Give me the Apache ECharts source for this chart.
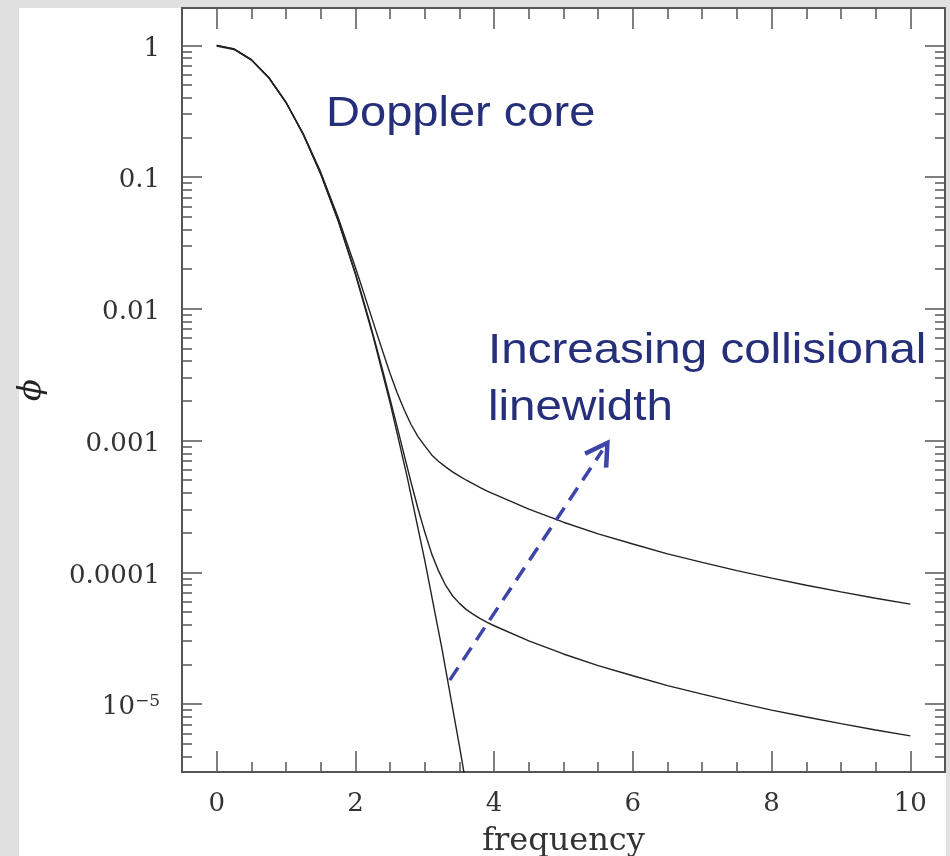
<!DOCTYPE html>
<html>
<head>
<meta charset="utf-8">
<style>
  html, body { margin: 0; padding: 0; background: #e0e0e0; }
  #chart { width: 950px; height: 856px; }
</style>
<script src="https://cdn.jsdelivr.net/npm/echarts@6/dist/echarts.min.js"></script>
</head>
<body>
<div id="chart"></div>
<script>
// frequency axis ticks
const xMajor = [0, 2, 4, 6, 8, 10];
const xMajorLabels = ["0", "2", "4", "6", "8", "10"];
const xMinor = [0.5, 1, 1.5, 2.5, 3, 3.5, 4.5, 5, 5.5, 6.5, 7, 7.5, 8.5, 9, 9.5];

// phi axis ticks (log)
const yMajor = [1e-5, 1e-4, 1e-3, 0.01, 0.1, 1];
const yMajorLabels = ["{b|10}{s|\u22125}", "0.0001", "0.001", "0.01", "0.1", "1"];
const yMinor = [
  4e-6, 5e-6, 6e-6, 7e-6, 8e-6, 9e-6,
  2e-5, 3e-5, 4e-5, 5e-5, 6e-5, 7e-5, 8e-5, 9e-5,
  2e-4, 3e-4, 4e-4, 5e-4, 6e-4, 7e-4, 8e-4, 9e-4,
  0.002, 0.003, 0.004, 0.005, 0.006, 0.007, 0.008, 0.009,
  0.02, 0.03, 0.04, 0.05, 0.06, 0.07, 0.08, 0.09,
  0.2, 0.3, 0.4, 0.5, 0.6, 0.7, 0.8, 0.9
];

// pure Doppler profile
const freqDoppler = [0, 0.25, 0.5, 0.75, 1, 1.25, 1.5, 1.75, 2, 2.25, 2.5, 2.75, 3, 3.25, 3.5, 3.6];
const phiDoppler = [1, 0.939, 0.779, 0.570, 0.368, 0.210, 0.105, 0.0468, 0.0183, 0.00633, 0.00193, 5.19e-4, 1.23e-4, 2.59e-5, 4.79e-6, 2.36e-6];

// profiles with collisional wings
const freqVoigt = [0, 0.25, 0.5, 0.75, 1, 1.25, 1.5, 1.75, 2, 2.1, 2.2, 2.3, 2.4, 2.5, 2.6, 2.7, 2.8, 2.9,
  3, 3.1, 3.2, 3.3, 3.4, 3.5, 3.6, 3.7, 3.8, 3.9, 4,
  4.5, 5, 5.5, 6, 6.5, 7, 7.5, 8, 8.5, 9, 9.5, 10];
const phiNarrow = [0.999, 0.938, 0.778, 0.570, 0.368, 0.210, 0.106, 0.0471, 0.0186, 0.01236, 0.00809, 0.00521,
  0.00330, 0.00206, 0.00128, 7.88e-4, 4.87e-4, 3.08e-4,
  2.02e-4, 1.38e-4, 1.02e-4, 7.98e-5, 6.64e-5, 5.81e-5, 5.21e-5, 4.79e-5, 4.45e-5, 4.17e-5, 3.93e-5,
  3.02e-5, 2.40e-5, 1.96e-5, 1.64e-5, 1.38e-5, 1.19e-5, 1.03e-5, 9.0e-6, 7.97e-6, 7.10e-6, 6.36e-6, 5.73e-6];
const phiWide = [0.989, 0.930, 0.772, 0.568, 0.369, 0.212, 0.109, 0.0496, 0.0206, 0.01424, 0.00977, 0.00671,
  0.00464, 0.00323, 0.00232, 0.00173, 0.00133, 0.001075,
  9.11e-4, 7.78e-4, 6.94e-4, 6.31e-4, 5.78e-4, 5.38e-4, 5.0e-4, 4.69e-4, 4.40e-4, 4.14e-4, 3.92e-4,
  3.02e-4, 2.40e-4, 1.96e-4, 1.64e-4, 1.38e-4, 1.19e-4, 1.03e-4, 9.03e-5, 7.97e-5, 7.10e-5, 6.36e-5, 5.73e-5];

// dashed arrow (data coords)
const arrowFrom = [3.36, 1.52e-5];
const arrowTo = [5.56, 8.4e-4];

const X_MIN = -0.5, X_MAX = 10.5;
const Y_MIN = 3.05e-6, Y_MAX = 1.92;

const AXIS_COLOR = "#555";
const LABEL_FONT = "DejaVu Serif";
const NOTE_COLOR = "#252f7a";

const zip = (xs, ys) => xs.map((x, i) => [x, ys[i]]);

function yLabel(v) {
  const i = yMajor.findIndex((t) => Math.abs(Math.log10(t) - Math.log10(v)) < 1e-6);
  return i >= 0 ? yMajorLabels[i] : "";
}

function xAxisOf(opts) {
  return Object.assign({
    type: "value", min: X_MIN, max: X_MAX,
    axisLine: { show: true, onZero: false, lineStyle: { color: AXIS_COLOR, width: 2 } },
    axisTick: { show: true, inside: true, length: 21, lineStyle: { color: AXIS_COLOR, width: 1.5 }, customValues: xMajor },
    axisLabel: { show: false },
    splitLine: { show: false }
  }, opts);
}

function yAxisOf(opts) {
  return Object.assign({
    type: "log", logBase: 10, min: Y_MIN, max: Y_MAX,
    axisLine: { show: true, onZero: false, lineStyle: { color: AXIS_COLOR, width: 2 } },
    axisTick: { show: true, inside: true, length: 20, lineStyle: { color: AXIS_COLOR, width: 1.5 }, customValues: yMajor },
    axisLabel: { show: false },
    splitLine: { show: false }
  }, opts);
}

const noLine = { show: false, onZero: false };
const minorTick = (len, values) => ({ show: true, inside: true, length: len, lineStyle: { color: AXIS_COLOR, width: 1.5 }, customValues: values });
const curveStyle = { color: "#222", width: 1.4 };

const chart = echarts.init(document.getElementById("chart"), null, { renderer: "canvas" });

chart.setOption({
  animation: false,
  backgroundColor: "#e0e0e0",
  graphic: [
    { type: "rect", z: -10, shape: { x: 19, y: 8, width: 927, height: 848 }, style: { fill: "#fff" } },
    {
      type: "text", z: 10, x: 326, y: 114, scaleX: 1.12,
      style: { text: "Doppler core", font: "42px 'Liberation Sans'", fill: NOTE_COLOR, verticalAlign: "middle" }
    },
    {
      type: "text", z: 10, x: 488, y: 351, scaleX: 1.105,
      style: { text: "Increasing collisional", font: "43px 'Liberation Sans'", fill: NOTE_COLOR, verticalAlign: "middle" }
    },
    {
      type: "text", z: 10, x: 488, y: 408, scaleX: 1.105,
      style: { text: "linewidth", font: "43px 'Liberation Sans'", fill: NOTE_COLOR, verticalAlign: "middle" }
    }
  ],
  grid: { left: 182, right: 5, top: 8, bottom: 84, containLabel: false, outerBoundsMode: "none" },
  xAxis: [
    xAxisOf({
      position: "bottom",
      name: "frequency", nameLocation: "middle", nameGap: 54,
      nameTextStyle: { fontFamily: LABEL_FONT, fontSize: 32, color: "#333" },
      axisLabel: {
        show: true, margin: 19, customValues: xMajor, fontFamily: LABEL_FONT, fontSize: 26, color: "#333",
        formatter: (v) => xMajorLabels[xMajor.indexOf(v)] ?? ""
      }
    }),
    xAxisOf({ position: "bottom", axisLine: noLine, axisTick: minorTick(10, xMinor) }),
    xAxisOf({ position: "top" }),
    xAxisOf({ position: "top", axisLine: noLine, axisTick: minorTick(11, xMinor) })
  ],
  yAxis: [
    yAxisOf({
      position: "left",
      name: "\u03d5", nameLocation: "middle", nameGap: 134, nameRotate: 90,
      nameTextStyle: { fontFamily: LABEL_FONT, fontStyle: "italic", fontSize: 32, color: "#222" },
      axisLabel: {
        show: true, margin: 22, customValues: yMajor, fontFamily: LABEL_FONT, fontSize: 26, color: "#333",
        padding: [7, 0, 0, 0],
        formatter: yLabel,
        rich: {
          b: { fontFamily: LABEL_FONT, fontSize: 26, color: "#333" },
          s: { fontFamily: LABEL_FONT, fontSize: 17, color: "#333", padding: [0, 0, 12, 0] }
        }
      }
    }),
    yAxisOf({ position: "left", axisLine: noLine, axisTick: minorTick(10, yMinor) }),
    yAxisOf({ position: "right" }),
    yAxisOf({ position: "right", axisLine: noLine, axisTick: minorTick(10, yMinor) })
  ],
  series: [
    {
      name: "Doppler", type: "line", data: zip(freqDoppler, phiDoppler),
      showSymbol: false, symbol: "none", clip: true, silent: true, lineStyle: curveStyle
    },
    {
      name: "narrow wings", type: "line", data: zip(freqVoigt, phiNarrow),
      showSymbol: false, symbol: "none", clip: true, silent: true, lineStyle: curveStyle
    },
    {
      name: "wide wings", type: "line", data: zip(freqVoigt, phiWide),
      showSymbol: false, symbol: "none", clip: true, silent: true, lineStyle: curveStyle,
      markLine: {
        silent: true, z: 5,
        symbol: ["none", "path://M50,0 L100,90 L87,100 L50,32 L13,100 L0,90 Z"],
        symbolSize: [29, 27],
        label: { show: false },
        lineStyle: { color: "#3f45a8", width: 3.5, type: [15, 9] },
        itemStyle: { color: "#3f45a8" },
        data: [[{ coord: arrowFrom }, { coord: arrowTo }]]
      }
    }
  ]
});
</script>
</body>
</html>
